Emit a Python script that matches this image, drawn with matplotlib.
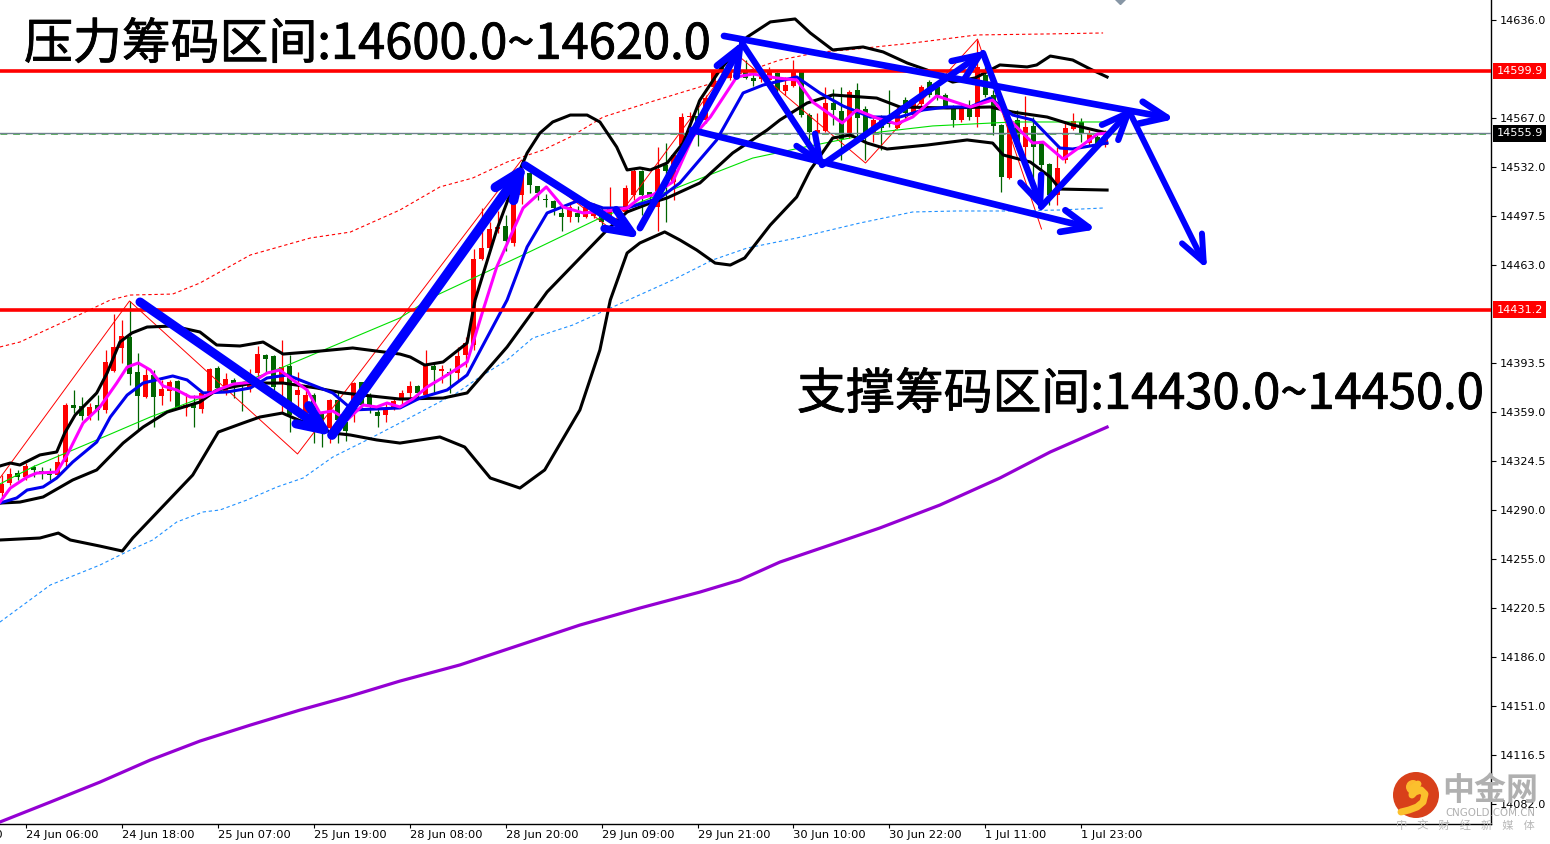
import matplotlib
matplotlib.use("Agg")
import matplotlib.pyplot as plt
import matplotlib.patheffects as pe
from matplotlib.patches import Circle
from matplotlib.transforms import blended_transform_factory

# candles, first one is bar -3, bar 0 = 24 Jun 06:00
first_bar = -3
# bars where price went up (red), all others are green
up_bars = [-3, -2, 0, 4, 5, 8, 10, 11, 12, 15, 17, 18, 20, 22, 23, 25, 28, 29, 32, 34, 35, 38, 41, 45, 46,
           47, 48, 50, 52, 54, 55, 56, 57, 58, 59, 61, 62, 68, 70, 71, 73, 75, 76, 79, 81, 82, 83, 85, 86,
           88, 92, 93, 95, 96, 99, 100, 103, 106, 109, 111, 112, 117, 119, 123, 125, 129, 130, 131, 133, 135]

body_top = [14308.1, 14315.1, 14315.8, 14320.8, 14320.1, 14317.3, 14315.1, 14323.6, 14363.9, 14363.9,
            14363.2, 14362.5, 14363.9, 14394.3, 14404.9, 14412.6, 14411.9, 14387.2, 14385.1, 14385.1,
            14375.2, 14380.1, 14380.8, 14363.9, 14364.6, 14372.4, 14389.3, 14390.0, 14382.3, 14381.6,
            14379.4, 14385.8, 14399.9, 14399.2, 14398.5, 14390.7, 14391.4, 14374.5, 14371.0, 14371.0,
            14358.2, 14367.4, 14367.4, 14351.9, 14379.4, 14380.1, 14371.0, 14358.9, 14361.8, 14366.7,
            14372.4, 14377.3, 14377.3, 14391.4, 14391.4, 14389.3, 14387.2, 14398.5, 14407.7, 14467.1,
            14474.8, 14488.3, 14489.7, 14490.4, 14510.9, 14527.8, 14527.8, 14518.7, 14509.5, 14508.1,
            14499.6, 14503.8, 14499.6, 14503.8, 14503.8, 14498.2, 14503.8, 14503.1, 14517.3, 14529.3,
            14529.3, 14514.4, 14530.7, 14533.5, 14540.6, 14567.4, 14568.1, 14568.1, 14580.8, 14599.9,
            14603.5, 14599.2, 14602.0, 14599.9, 14595.0, 14598.5, 14599.2, 14598.5, 14590.0, 14599.2,
            14599.2, 14568.8, 14558.2, 14577.3, 14577.3, 14571.7, 14585.1, 14586.5, 14573.1, 14565.3,
            14567.4, 14563.2, 14572.4, 14579.4, 14577.3, 14588.6, 14592.2, 14588.6, 14583.0, 14575.2,
            14573.8, 14575.2, 14602.8, 14597.1, 14583.0, 14561.8, 14563.2, 14565.3, 14560.4, 14561.1,
            14549.0, 14534.2, 14531.4, 14559.6, 14564.6, 14563.9, 14556.1, 14553.3, 14556.8]
body_bot = [14301.7, 14308.8, 14313.0, 14313.0, 14318.0, 14316.5, 14314.4, 14314.4, 14323.6, 14361.8,
            14356.1, 14356.1, 14360.4, 14360.4, 14387.9, 14404.2, 14385.8, 14370.2, 14369.5, 14369.5,
            14370.2, 14373.8, 14362.5, 14361.8, 14361.8, 14361.1, 14372.4, 14375.9, 14372.4, 14379.4,
            14378.7, 14376.6, 14386.5, 14396.4, 14376.6, 14379.4, 14356.8, 14371.0, 14358.2, 14356.8,
            14348.3, 14347.6, 14353.3, 14345.5, 14365.3, 14363.9, 14363.2, 14356.1, 14356.8, 14362.5,
            14367.4, 14372.4, 14372.4, 14371.0, 14388.6, 14387.9, 14386.5, 14386.5, 14399.2, 14406.3,
            14467.1, 14474.8, 14488.3, 14479.8, 14478.4, 14512.3, 14519.4, 14513.7, 14508.8, 14503.1,
            14496.8, 14496.8, 14496.8, 14496.8, 14497.5, 14493.2, 14496.8, 14501.0, 14500.3, 14512.3,
            14512.3, 14510.9, 14503.8, 14529.3, 14521.5, 14547.6, 14567.4, 14558.2, 14565.3, 14588.6,
            14599.2, 14595.0, 14597.1, 14595.0, 14592.9, 14594.3, 14593.6, 14586.5, 14585.8, 14589.3,
            14568.8, 14556.8, 14556.1, 14557.5, 14572.4, 14551.9, 14553.3, 14566.7, 14556.1, 14556.1,
            14559.6, 14562.5, 14559.6, 14570.2, 14568.8, 14576.6, 14583.0, 14583.0, 14575.2, 14565.3,
            14565.3, 14567.4, 14567.4, 14583.0, 14561.1, 14525.0, 14524.3, 14546.2, 14546.2, 14546.2,
            14533.5, 14512.3, 14512.3, 14537.0, 14558.9, 14556.1, 14549.0, 14547.6, 14547.6]
wick_high = [14314.4, 14319.4, 14318.0, 14322.9, 14321.5, 14320.1, 14319.4, 14329.3, 14365.3, 14374.5,
             14369.5, 14365.3, 14370.9, 14402.8, 14428.2, 14424.0, 14437.4, 14400.6, 14390.7, 14388.6,
             14381.6, 14381.6, 14381.6, 14372.4, 14370.9, 14373.1, 14390.0, 14391.4, 14386.5, 14383.0,
             14380.1, 14389.3, 14405.6, 14399.9, 14399.2, 14409.8, 14399.2, 14387.2, 14374.5, 14372.4,
             14358.9, 14368.1, 14373.1, 14362.5, 14380.1, 14380.1, 14372.4, 14361.8, 14365.3, 14369.5,
             14374.5, 14380.8, 14378.0, 14402.8, 14393.6, 14392.1, 14390.0, 14404.9, 14412.0, 14474.1,
             14503.1, 14493.2, 14501.0, 14498.2, 14516.5, 14532.1, 14528.5, 14518.7, 14513.0, 14508.8,
             14503.8, 14506.6, 14504.5, 14508.8, 14506.6, 14503.8, 14518.0, 14503.8, 14519.4, 14531.4,
             14530.0, 14514.4, 14546.2, 14549.0, 14542.0, 14570.2, 14571.0, 14579.4, 14583.0, 14600.6,
             14607.7, 14602.0, 14605.6, 14607.7, 14598.5, 14600.6, 14602.8, 14599.2, 14595.7, 14607.7,
             14599.9, 14570.2, 14570.2, 14588.6, 14587.2, 14588.6, 14586.5, 14591.4, 14575.2, 14566.7,
             14568.8, 14586.5, 14574.5, 14581.5, 14579.4, 14590.0, 14593.6, 14590.0, 14584.4, 14575.9,
             14576.6, 14579.4, 14621.8, 14602.8, 14586.5, 14562.5, 14570.2, 14572.4, 14582.3, 14567.4,
             14549.7, 14534.9, 14546.2, 14563.2, 14570.2, 14566.7, 14558.2, 14554.7, 14558.2]
wick_low = [14298.9, 14307.4, 14310.9, 14310.9, 14313.0, 14311.6, 14310.9, 14313.0, 14320.8, 14358.2,
            14353.3, 14353.3, 14353.3, 14358.2, 14387.2, 14393.6, 14378.0, 14346.2, 14368.8, 14348.3,
            14363.9, 14366.7, 14361.8, 14356.1, 14348.3, 14358.2, 14371.0, 14374.5, 14371.0, 14368.8,
            14359.7, 14373.1, 14383.7, 14386.5, 14371.0, 14358.2, 14344.8, 14355.4, 14351.2, 14337.0,
            14334.2, 14337.0, 14337.0, 14338.5, 14351.9, 14362.5, 14358.2, 14348.3, 14351.9, 14360.4,
            14363.9, 14369.5, 14368.8, 14368.8, 14372.4, 14379.4, 14372.4, 14381.6, 14390.7, 14402.8,
            14466.4, 14473.4, 14485.4, 14472.7, 14476.3, 14505.9, 14513.7, 14508.8, 14503.8, 14498.2,
            14486.9, 14493.2, 14493.2, 14496.0, 14496.0, 14487.6, 14493.2, 14498.2, 14499.6, 14508.8,
            14498.2, 14503.8, 14486.9, 14493.2, 14508.8, 14546.2, 14556.1, 14546.9, 14563.2, 14587.9,
            14597.1, 14593.6, 14595.0, 14594.3, 14589.3, 14592.2, 14592.2, 14584.4, 14583.0, 14588.6,
            14567.4, 14549.0, 14554.7, 14556.8, 14561.8, 14537.0, 14552.6, 14552.6, 14537.0, 14549.8,
            14544.1, 14560.4, 14558.9, 14566.7, 14567.4, 14574.5, 14581.5, 14579.4, 14574.5, 14560.4,
            14563.9, 14565.3, 14560.4, 14581.5, 14554.7, 14514.4, 14523.6, 14544.1, 14537.0, 14520.8,
            14503.1, 14505.2, 14505.2, 14534.9, 14558.2, 14549.8, 14546.9, 14545.5, 14546.2]

# bollinger bands
bb_up_x = [-3.2, -1.9, -0.7, 1.8, 3.9, 4.9, 6.2, 8.9, 10.2, 11.8, 13.3, 15.2, 18.4, 21.8, 23.9, 26.8, 29.7, 32.2,
           36.8, 40.9, 43.9, 46.8, 48.1, 49.9, 52.2, 55.2, 56.2, 58.9, 60.9, 62.7, 64.3, 65.9, 68.1, 70.2, 71.8,
           73.9, 75.2, 76.8, 78.1, 80.2, 82.2, 84.3, 86.8, 90.2, 93.1, 96.2, 98.1, 100.9, 104.7, 107.2, 110.2,
           112.7, 115.9, 118.7, 121.8, 125.2, 126.4, 128.1, 130.9, 133.1, 135.2]
bb_up_y = [14320.8, 14322.9, 14321.5, 14328.6, 14330.7, 14344.1, 14356.8, 14372.4, 14386.5, 14408.4, 14414.8,
           14419.0, 14419.7, 14415.5, 14406.3, 14405.6, 14408.4, 14399.9, 14402.0, 14404.2, 14402.0, 14399.9,
           14397.8, 14392.1, 14394.3, 14407.7, 14438.1, 14487.6, 14518.0, 14542.0, 14556.1, 14563.9, 14568.8,
           14568.8, 14563.9, 14546.2, 14530.0, 14531.4, 14530.0, 14534.9, 14549.0, 14579.4, 14600.6, 14623.9,
           14634.6, 14636.7, 14626.8, 14614.8, 14616.9, 14613.4, 14605.6, 14600.6, 14592.1, 14595.0, 14604.2,
           14602.8, 14604.2, 14610.5, 14607.7, 14601.3, 14595.7]
bb_mid_x = [-3.2, -0.7, 2.2, 5.9, 8.9, 12.2, 14.7, 17.7, 21.8, 23.9, 28.4, 32.2, 36.4, 39.7, 46.8, 52.2, 55.2, 60.2,
            65.2, 72.7, 75.2, 78.1, 80.2, 84.3, 88.4, 92.7, 94.3, 97.7, 100.9, 106.4, 109.3, 115.2, 120.6, 123.4,
            127.7, 130.9, 135.2]
bb_mid_y = [14294.6, 14295.3, 14298.9, 14310.9, 14318.0, 14337.0, 14348.3, 14358.9, 14366.0, 14374.5, 14379.4,
            14379.4, 14375.9, 14372.4, 14368.1, 14368.8, 14372.4, 14404.9, 14443.8, 14487.6, 14500.3, 14506.6,
            14510.2, 14520.8, 14542.0, 14558.2, 14565.3, 14577.3, 14583.0, 14580.8, 14574.5, 14573.8, 14574.5,
            14570.9, 14567.4, 14561.8, 14556.1]
bb_low_x = [-3.2, -0.7, 1.8, 4.1, 5.6, 9.3, 12.1, 13.4, 20.9, 24.1, 27.2, 29.3, 32.1, 34.1, 38.4, 40.6, 43.9, 46.8,
            51.8, 54.9, 58.1, 61.8, 64.9, 69.3, 71.8, 73.1, 75.2, 76.8, 79.9, 81.8, 83.9, 86.2, 88.1, 89.9, 93.1,
            96.4, 98.1, 100.9, 103.1, 105.2, 107.7, 112.7, 117.7, 120.9, 122.2, 125.6, 128.1, 129.3, 135.2]
bb_low_y = [14268.5, 14269.2, 14269.9, 14273.4, 14268.5, 14264.2, 14260.7, 14269.9, 14314.4, 14344.8, 14351.2,
            14355.4, 14358.2, 14353.3, 14344.1, 14342.7, 14339.2, 14337.0, 14341.3, 14334.2, 14312.3, 14305.2,
            14318.0, 14360.4, 14402.8, 14438.1, 14471.3, 14478.4, 14486.2, 14480.5, 14473.4, 14464.2, 14462.8,
            14467.8, 14491.1, 14510.9, 14530.0, 14552.6, 14554.7, 14549.0, 14544.8, 14547.6, 14551.2, 14549.0,
            14540.6, 14535.6, 14525.0, 14516.5, 14515.8]

# fast averages
fast_x = [-3.2, -1.9, 0.2, 1.4, 3.9, 5.2, 7.2, 9.3, 11.4, 12.7, 14.1, 15.6, 17.2, 18.9, 20.6, 22.2, 24.3, 26.0, 28.4,
          30.2, 31.8, 33.4, 35.2, 36.8, 38.4, 40.2, 42.2, 43.9, 45.2, 46.8, 48.4, 50.2, 53.1, 55.2, 57.2, 58.9, 62.2,
          65.1, 67.2, 69.7, 72.7, 75.2, 76.8, 78.4, 80.9, 83.4, 85.6, 88.9, 90.9, 93.9, 96.4, 98.4, 102.1, 103.9,
          106.4, 108.9, 110.9, 113.9, 118.1, 120.9, 123.4, 125.9, 127.2, 129.7, 131.8, 134.0, 135.2]
fast_y = [14295.3, 14305.2, 14313.0, 14315.8, 14316.5, 14328.6, 14351.2, 14362.5, 14379.4, 14390.7, 14393.6, 14388.6,
          14377.3, 14374.5, 14369.5, 14369.5, 14375.2, 14378.7, 14380.1, 14386.5, 14388.6, 14381.6, 14374.5, 14358.2,
          14359.7, 14353.3, 14363.9, 14362.5, 14365.3, 14362.5, 14368.1, 14376.6, 14386.5, 14394.3, 14431.0, 14461.4,
          14503.1, 14518.0, 14503.8, 14499.6, 14501.0, 14503.1, 14510.2, 14512.3, 14521.5, 14553.3, 14567.4, 14595.7,
          14597.8, 14595.0, 14593.6, 14578.0, 14563.2, 14572.4, 14566.7, 14562.5, 14567.4, 14582.3, 14574.5, 14579.4,
          14563.2, 14549.0, 14549.7, 14537.7, 14546.2, 14555.4, 14556.1]
slow_x = [-3.2, -1.1, 0.2, 2.2, 3.9, 5.9, 8.9, 10.6, 12.7, 14.7, 18.4, 20.2, 22.2, 25.2, 28.1, 30.2, 32.7, 35.9, 38.4,
          40.9, 46.8, 49.3, 52.7, 55.2, 60.2, 62.7, 65.2, 69.3, 72.2, 75.2, 79.3, 81.8, 86.4, 89.7, 92.2, 96.4, 99.3,
          102.2, 105.6, 109.3, 112.2, 115.2, 118.1, 120.6, 123.4, 125.9, 129.3, 130.9, 135.2]
slow_y = [14294.6, 14298.2, 14303.8, 14306.0, 14312.3, 14323.6, 14337.7, 14355.4, 14370.9, 14379.4, 14384.4, 14381.6,
          14372.4, 14373.1, 14375.9, 14383.0, 14385.1, 14378.0, 14372.4, 14360.4, 14361.8, 14368.8, 14374.5, 14385.1,
          14438.1, 14475.6, 14499.6, 14508.8, 14503.1, 14503.1, 14510.2, 14520.8, 14551.2, 14584.4, 14590.0, 14595.7,
          14584.4, 14575.2, 14567.4, 14567.4, 14572.4, 14574.5, 14574.5, 14580.8, 14568.8, 14565.3, 14545.5, 14544.8,
          14549.0]
green_x = [-3.2, 0.9, 8.9, 15.6, 32.2, 46.8, 50.9, 62.7, 71.8, 86.4, 90.9, 96.8, 106.8, 113.4, 118.4, 123.4, 135.2]
green_y = [14308.1, 14320.1, 14339.2, 14355.4, 14390.7, 14425.4, 14440.2, 14471.3, 14496.0, 14528.5, 14538.4, 14545.5,
           14556.8, 14561.1, 14562.5, 14563.9, 14563.9]

# envelopes
env_up_x = [-3.2, -0.7, 3.1, 7.2, 10.6, 13.1, 18.4, 21.8, 28.1, 35.6, 40.6, 46.8, 51.8, 55.9, 60.2, 64.7, 68.1, 72.2,
            77.7, 81.8, 85.9, 94.3, 99.3, 102.7, 110.9, 118.9, 127.7, 134.7]
env_up_y = [14404.9, 14408.4, 14418.3, 14428.9, 14438.1, 14441.6, 14442.3, 14450.1, 14469.9, 14481.9, 14486.1, 14501.7,
            14518.0, 14524.3, 14535.6, 14544.1, 14553.3, 14567.4, 14577.3, 14584.4, 14591.4, 14607.7, 14613.3, 14614.8,
            14619.7, 14625.4, 14626.1, 14626.8]
env_low_x = [-3.2, 3.1, 9.3, 13.1, 15.9, 18.9, 22.2, 24.3, 27.7, 31.4, 34.7, 38.4, 42.7, 46.8, 53.9, 56.8, 60.2, 63.4,
             68.4, 75.9, 80.9, 85.9, 90.2, 96.4, 104.3, 110.9, 116.4, 123.4, 129.3, 134.7]
env_low_y = [14210.5, 14236.7, 14250.8, 14261.4, 14268.5, 14281.2, 14288.3, 14289.7, 14296.8, 14305.9, 14312.3, 14327.1,
             14339.2, 14351.2, 14372.4, 14383.7, 14395.7, 14411.2, 14420.4, 14439.5, 14452.2, 14466.4, 14474.8, 14481.9,
             14492.5, 14500.3, 14501.0, 14501.0, 14501.7, 14503.1]

# long average
long_x = [-3.2, 3.1, 9.3, 15.6, 21.8, 28.1, 34.3, 40.6, 46.8, 54.3, 61.8, 69.3, 76.8, 84.3, 89.3, 94.3, 100.6, 106.8,
          114.3, 121.8, 128.1, 135.2]
long_y = [14069.2, 14083.3, 14097.4, 14113.0, 14126.4, 14137.7, 14148.3, 14158.2, 14168.8, 14180.2, 14194.3, 14208.4,
          14220.4, 14231.7, 14240.2, 14252.9, 14265.0, 14277.0, 14293.2, 14312.3, 14330.7, 14348.3]

# zigzag
zig_x = [-3.2, 13, 34, 62, 73, 89, 105, 119, 127]
zig_y = [14312.3, 14437.4, 14329.3, 14537.0, 14489.0, 14611.2, 14534.9, 14622.5, 14488.3]

# hand drawn arrows: start bar, start price, end bar, end price, width
arrow_x0 = [14.31, 38.31, 62.44, 76.81, 89.56, 99.56, 119.69, 126.94, 138.19, 87.31, 83.31]
arrow_y0 = [14436.7, 14342.7, 14533.5, 14489.0, 14619.7, 14533.5, 14612.6, 14503.8, 14568.8, 14624.7, 14558.2]
arrow_x1 = [38.5, 62.7, 76.9, 89.8, 99.9, 120.1, 127.2, 138.5, 147.7, 143.7, 133.9]
arrow_y1 = [14341.7, 14535.5, 14481.5, 14621.7, 14531.0, 14614.5, 14501.0, 14574.4, 14460.0, 14566.0, 14488.0]
arrow_w = [6.5, 7.0, 5.5, 5.0, 4.5, 4.6, 4.6, 4.5, 4.3, 4.8, 4.8]

resistance = 14599.9
support = 14431.2
last_price = 14555.9
y_ticks = [14636.0, 14567.0, 14532.0, 14497.5, 14463.0, 14393.5, 14359.0, 14324.5, 14290.0, 14255.0,
           14220.5, 14186.0, 14151.0, 14116.5, 14082.0]
x_ticks = [-12, 0, 12, 24, 36, 48, 60, 72, 84, 96, 108, 120, 132]
x_labels = ["23 Jun 18:00", "24 Jun 06:00", "24 Jun 18:00", "25 Jun 07:00", "25 Jun 19:00", "28 Jun 08:00",
            "28 Jun 20:00", "29 Jun 09:00", "29 Jun 21:00", "30 Jun 10:00", "30 Jun 22:00", "1 Jul 11:00",
            "1 Jul 23:00"]

cjk = ["Noto Sans CJK SC", "DejaVu Sans"]
W, H = 1550, 844
RED = "#ff0000"
DGREEN = "#006400"
BLUE = "#0000ff"

fig = plt.figure(figsize=(W / 100, H / 100), dpi=100, facecolor="white")
ax = fig.add_axes([0, 20 / H, 1491 / W, 824 / H])
ax.set_xlim(-3.19, 183.19)
ax.set_ylim(14067.8, 14650.1)

for s in ["top", "left"]:
    ax.spines[s].set_visible(False)
for s in ["right", "bottom"]:
    ax.spines[s].set_linewidth(1.0)

ax.yaxis.tick_right()
ax.set_yticks(y_ticks)
ax.set_yticklabels(["%.1f" % v for v in y_ticks], fontsize=8.1, family="DejaVu Sans")
ax.tick_params(axis="y", length=3.5, width=0.8, pad=2.5)
ax.set_xticks(x_ticks[1:])
ax.set_xticklabels([])
ax.tick_params(axis="x", length=3, width=0.8)

# x labels start at the tick, MT4 style
tr = blended_transform_factory(ax.transData, fig.transFigure)
for t, lab in zip(x_ticks, x_labels):
    ax.text(t, 9.5 / H, lab, transform=tr, fontsize=8.25, ha="left", va="center", clip_on=False)

# candles
bars = list(range(first_bar, first_bar + len(body_top)))
for b, top, bot, hi, lo in zip(bars, body_top, body_bot, wick_high, wick_low):
    c = RED if b in up_bars else DGREEN
    ax.vlines(b, lo, hi, color=c, lw=0.9, zorder=2)
    ax.bar(b, max(top - bot, 0.7), bottom=bot, width=0.72, color=c, lw=0, zorder=3)

# thin lines
ax.plot(zig_x, zig_y, color=RED, lw=0.7, zorder=4)
ax.plot(green_x, green_y, color="#00e000", lw=0.8, zorder=4)
ax.plot(env_up_x, env_up_y, color=RED, lw=0.8, ls=(0, (3, 2.5)), zorder=4)
ax.plot(env_low_x, env_low_y, color="#1e90ff", lw=0.8, ls=(0, (3, 2.5)), zorder=4)

# indicator lines
for xs, ys in [(bb_up_x, bb_up_y), (bb_mid_x, bb_mid_y), (bb_low_x, bb_low_y)]:
    ax.plot(xs, ys, color="black", lw=2.2, zorder=5, solid_joinstyle="round")
ax.plot(slow_x, slow_y, color="#0000ee", lw=2.2, zorder=6)
ax.plot(fast_x, fast_y, color="#ff00ff", lw=2.2, zorder=7)
ax.plot(long_x, long_y, color="#9400d3", lw=2.3, zorder=5)

# price lines
ax.axhline(last_price - 0.7, color="#5cb85c", lw=0.7, ls=(0, (7, 6)), zorder=4)
ax.axhline(last_price, color="#708090", lw=1.0, zorder=4)
ax.axhline(resistance, color=RED, lw=2.6, zorder=8)
ax.axhline(support, color=RED, lw=2.6, zorder=8)

# arrows
for x0, y0, x1, y1, w in zip(arrow_x0, arrow_y0, arrow_x1, arrow_y1, arrow_w):
    ax.annotate("", xy=(x1, y1), xytext=(x0, y0), zorder=9,
                arrowprops=dict(arrowstyle="->,head_length=19,head_width=8", mutation_scale=1,
                                color=BLUE, lw=w, shrinkA=0, shrinkB=0,
                                capstyle="round", joinstyle="round"))

# labels on the price axis
for v, bg, fg in [(resistance, RED, "white"), (support, RED, "white"), (last_price, "black", "white")]:
    ax.annotate("%.1f" % v, xy=(1, v), xycoords=("axes fraction", "data"), xytext=(4.0, 0),
                textcoords="offset points", fontsize=8.1, color=fg, va="center", ha="left",
                bbox=dict(boxstyle="square,pad=0.3", fc=bg, ec="none"), zorder=10, annotation_clip=False)

# titles
bold = [pe.withStroke(linewidth=0.6, foreground="black")]
fig.text(24 / W, 1 - 45 / H, "压力筹码区间:14600.0~14620.0", family=cjk, fontsize=35.2, color="black",
         ha="left", va="center", zorder=11, path_effects=bold)
fig.text(797 / W, 1 - 395 / H, "支撑筹码区间:14430.0~14450.0", family=cjk, fontsize=35.2, color="black",
         ha="left", va="center", zorder=11, path_effects=bold)

# small marker cut by the top edge
ax.plot([136.8], [14652.5], marker="D", ms=7, color="#8796a5", clip_on=True, zorder=3)

# watermark
logo = fig.add_axes([1393 / W, 1 - 818 / H, 46 / W, 46 / H], zorder=12)
logo.set_xlim(0, 46)
logo.set_ylim(46, 0)
logo.axis("off")
logo.add_patch(Circle((23, 23), 23, fc="#d8401a", ec="none"))
swirl_x = [8, 16, 24, 30, 32, 28, 22, 19, 20, 25]
swirl_y = [40, 38, 35, 30, 22, 18, 20, 23, 16, 12]
logo.plot(swirl_x, swirl_y, color="#fbc02d", lw=5, solid_capstyle="round")
logo.add_patch(Circle((20, 15), 7, fc="#fdb92e", ec="none"))
logo.add_patch(Circle((22, 21), 3, fc="#d8401a", ec="none"))
fig.text(1490 / W, 1 - 791 / H, "中金网", family=cjk, fontsize=23, fontweight="bold", color="#b0b0b0",
         ha="center", va="center", zorder=13)
fig.text(1490 / W, 1 - 813 / H, "CNGOLD.COM.CN", fontsize=7.4, color="#b0b0b0", ha="center", va="center", zorder=13)
fig.text(1465 / W, 1 - 826 / H, "中    文    财    经    新    媒    体", family=cjk, fontsize=8.1, color="#b8b8b8",
         ha="center", va="center", zorder=13)

fig.savefig("out.png", dpi=100, facecolor="white")
